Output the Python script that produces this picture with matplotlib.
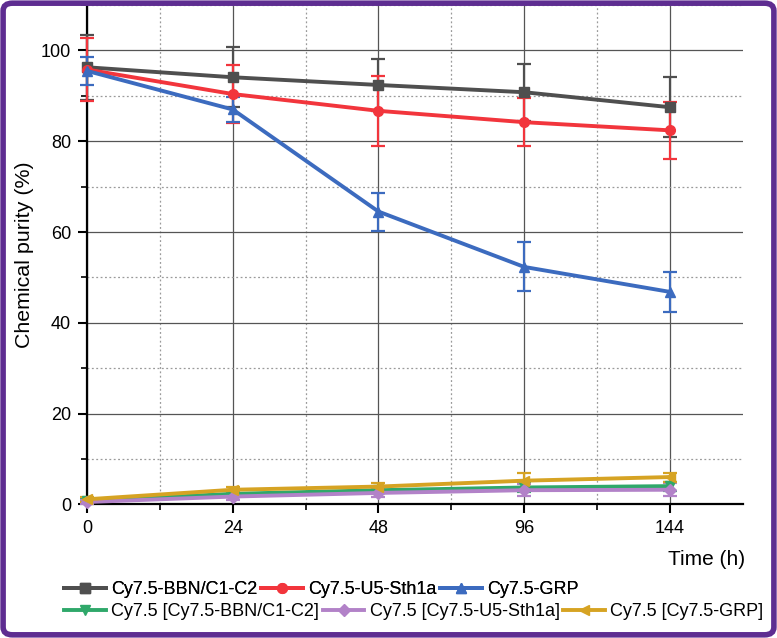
import matplotlib
matplotlib.use("Agg")
import matplotlib.pyplot as plt
from matplotlib.lines import Line2D
from matplotlib.patches import FancyBboxPatch
from matplotlib.ticker import MultipleLocator
import numpy as np

plt.rcParams["font.family"] = ["Liberation Sans", "DejaVu Sans"]

time_labels = ["0", "24", "48", "96", "144"]

bbn = [96.3, 94.1, 92.4, 90.8, 87.5]
bbn_err = [7.2, 6.6, 5.8, 6.3, 6.6]
u5 = [95.8, 90.4, 86.7, 84.2, 82.4]
u5_err = [7.0, 6.4, 7.7, 5.3, 6.3]
grp = [95.5, 87.0, 64.5, 52.3, 46.8]
grp_err = [3.1, 2.7, 4.2, 5.4, 4.4]
free_bbn = [0.8, 2.3, 3.1, 3.7, 4.0]
free_bbn_err = [0.5, 0.6, 0.7, 0.9, 1.0]
free_u5 = [0.5, 1.7, 2.5, 3.1, 3.2]
free_u5_err = [0.4, 0.8, 0.9, 1.3, 1.4]
free_grp = [1.1, 3.2, 3.9, 5.2, 6.0]
free_grp_err = [0.5, 0.6, 0.7, 1.7, 1.0]

series = [
    ("Cy7.5-BBN/C1-C2", bbn, bbn_err, "#4f4f4f", "s"),
    ("Cy7.5-U5-Sth1a", u5, u5_err, "#f2353c", "o"),
    ("Cy7.5-GRP", grp, grp_err, "#3c6bbf", "^"),
    ("Cy7.5 [Cy7.5-BBN/C1-C2]", free_bbn, free_bbn_err, "#2fa86a", "v"),
    ("Cy7.5 [Cy7.5-U5-Sth1a]", free_u5, free_u5_err, "#b282c8", "D"),
    ("Cy7.5 [Cy7.5-GRP]", free_grp, free_grp_err, "#d6a323", "<"),
]

fig = plt.figure(figsize=(7.77, 6.38), dpi=100)
ax = fig.add_axes([0.112, 0.2096, 0.844, 0.7824])

x = np.arange(len(time_labels))
handles = []
for label, vals, err, color, marker in series:
    ms = 6 if marker == "D" else 7
    h = ax.errorbar(x, vals, yerr=err, color=color, marker=marker, ms=ms, lw=2.8,
                    elinewidth=1.6, capsize=5, capthick=1.6, zorder=3, clip_on=False)
    for art in (h.lines[0],) + tuple(h.lines[1]) + tuple(h.lines[2]):
        art.set_clip_on(False)
    # legend shows only line + marker, no error bar
    handles.append(Line2D([], [], color=color, marker=marker, ms=ms, lw=2.8, label=label))

ax.set_xlim(0, 4.5)
ax.set_ylim(0, 110)
ax.set_xticks(x)
ax.set_xticklabels(time_labels)
ax.set_xticks(x[:-1] + 0.5, minor=True)
ax.set_yticks(np.arange(0, 101, 20))
ax.yaxis.set_minor_locator(MultipleLocator(10))

ax.grid(which="major", color="#555555", lw=0.9, ls="-", zorder=0)
ax.grid(which="minor", color="#9a9a9a", lw=0.9, ls=(0, (1.5, 2)), zorder=0)
ax.set_axisbelow(True)

for side in ["top", "right"]:
    ax.spines[side].set_visible(False)
for side in ["left", "bottom"]:
    ax.spines[side].set_linewidth(1.6)
    ax.spines[side].set_zorder(2)

ax.tick_params(which="major", direction="out", length=6.5, width=1.5, labelsize=13, pad=5)
ax.tick_params(which="minor", direction="out", length=4, width=1.2)

ax.set_ylabel("Chemical purity (%)", fontsize=15.4, labelpad=5)
ax.set_xlabel("Time (h)", fontsize=15, loc="right", labelpad=9)
ax.xaxis.label.set_x(1.004)

leg_kw = dict(frameon=False, fontsize=13, handlelength=2.3, handletextpad=0.28,
              columnspacing=0.22, borderpad=0, borderaxespad=0, loc="center left")
leg1 = fig.legend(handles=handles[:3], ncol=3, bbox_to_anchor=(0.083, 1 - 590 / 638), **leg_kw)
fig.add_artist(leg1)
fig.legend(handles=handles[3:], ncol=3, bbox_to_anchor=(0.083, 1 - 612 / 638), **leg_kw)

frame = FancyBboxPatch((0.004, 0.005), 0.992, 0.99, boxstyle="round,pad=0,rounding_size=0.012",
                       transform=fig.transFigure, fill=False, ec="#5e2d91", lw=4)
fig.add_artist(frame)

fig.savefig("out.png", dpi=100)
